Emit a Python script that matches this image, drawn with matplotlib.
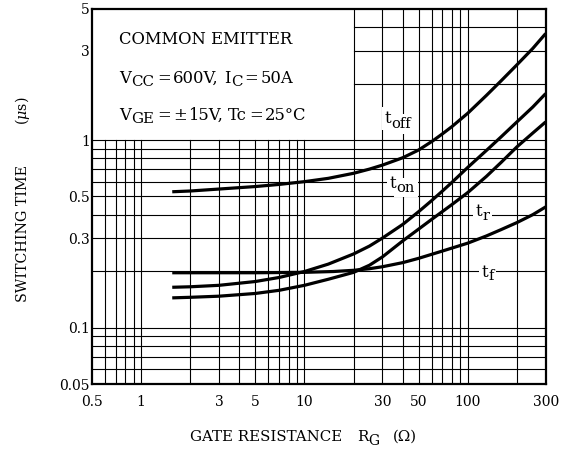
import matplotlib
matplotlib.use('Agg')
import matplotlib.pyplot as plt
from matplotlib.transforms import IdentityTransform

plt.rcParams['font.family'] = ['DejaVu Serif']
plt.rcParams['mathtext.fontset'] = 'dejavuserif'

# ---- data ----
toff_x = [1.55, 2, 3, 5, 7, 10, 14, 20, 25, 30, 40, 50, 61, 70, 80, 100, 130, 160, 200, 250, 300]
toff_y = [0.53, 0.535, 0.548, 0.565, 0.58, 0.60, 0.625, 0.665, 0.70, 0.735, 0.805, 0.885, 0.99,
          1.08, 1.18, 1.39, 1.73, 2.07, 2.52, 3.08, 3.7]

ton_x = [1.55, 2, 3, 5, 7, 10, 14, 20, 25, 30, 40, 50, 60, 70, 80, 100, 130, 160, 200, 250, 300]
ton_y = [0.164, 0.165, 0.168, 0.176, 0.185, 0.199, 0.218, 0.247, 0.272, 0.30, 0.355, 0.415, 0.475,
         0.535, 0.595, 0.715, 0.88, 1.04, 1.25, 1.50, 1.77]

tr_x = [1.55, 2, 3, 5, 7, 10, 14, 20, 25, 30, 40, 50, 60, 70, 80, 100, 130, 160, 200, 250, 300]
tr_y = [0.144, 0.145, 0.147, 0.152, 0.158, 0.168, 0.181, 0.197, 0.215, 0.238, 0.29, 0.335, 0.377,
        0.416, 0.453, 0.525, 0.64, 0.76, 0.92, 1.09, 1.25]

tf_x = [1.55, 3, 5, 10, 15, 20, 25, 30, 40, 50, 70, 100, 130, 160, 200, 250, 300]
tf_y = [0.196, 0.196, 0.196, 0.197, 0.199, 0.202, 0.206, 0.211, 0.222, 0.234, 0.256, 0.282, 0.308,
        0.333, 0.363, 0.40, 0.44]

x_ticks = [0.5, 1, 3, 5, 10, 30, 50, 100, 300]
x_tick_labels = ['0.5', '1', '3', '5', '10', '30', '50', '100', '300']
y_ticks = [0.05, 0.1, 0.3, 0.5, 1, 3, 5]
y_tick_labels = ['0.05', '0.1', '0.3', '0.5', '1', '3', '5']

grid_x = [0.6, 0.7, 0.8, 0.9, 1, 2, 3, 4, 5, 6, 7, 8, 9, 10,
          20, 30, 40, 50, 60, 70, 80, 90, 100, 200]
grid_y_low = [0.06, 0.07, 0.08, 0.09, 0.1, 0.2, 0.3, 0.4, 0.5, 0.6, 0.7, 0.8, 0.9, 1]
grid_y_high = [2, 3, 4]

# curve labels: subscript and anchor (data coords of left baseline of "t")
curve_label_sub = ['off', 'on', 'r', 'f']
curve_label_x = [31.1, 33.4, 111.8, 121.7]
curve_label_y = [1.229, 0.553, 0.395, 0.187]
curve_label_drop = [4.5, 3.4, 4.0, 3.0]

# ---- figure ----
W, H = 564, 451
fig = plt.figure(figsize=(W / 100, H / 100), dpi=100)
ax = fig.add_axes([92 / W, 67 / H, 453.7 / W, 375 / H])
ax.set_xscale('log')
ax.set_yscale('log')
ax.set_xlim(0.5, 300)
ax.set_ylim(0.05, 5)
renderer = fig.canvas.get_renderer()
ID = IdentityTransform()


def pieces_text(x0, y0, pieces, rotation=0, bbox=None, zorder=4, color='black'):
    """Lay out (text, size, drop, gap) pieces from display pixel (x0, y0) on a baseline."""
    pos = 0.0
    for s, size, drop, gap in pieces:
        pos += gap
        if rotation == 0:
            t = ax.text(x0 + pos, y0 - drop, s, fontsize=size, ha='left', va='baseline',
                        transform=ID, zorder=zorder, bbox=bbox, clip_on=False, color=color)
            pos += t.get_window_extent(renderer).width
        else:
            t = ax.text(x0 + drop, y0 + pos, s, fontsize=size, ha='left', va='baseline',
                        rotation=90, rotation_mode='anchor', transform=ID, zorder=zorder,
                        bbox=bbox, clip_on=False, color=color)
            pos += t.get_window_extent(renderer).height


# grid (the upper-left area holds the condition text, no grid there)
for gx in grid_x:
    top = 5 if gx >= 20 else 1
    ax.plot([gx, gx], [0.05, top], color='black', lw=0.8, zorder=1)
for gy in grid_y_low:
    ax.plot([0.5, 300], [gy, gy], color='black', lw=0.8, zorder=1)
for gy in grid_y_high:
    ax.plot([20, 300], [gy, gy], color='black', lw=0.8, zorder=1)

for xs, ys in [(toff_x, toff_y), (ton_x, ton_y), (tr_x, tr_y), (tf_x, tf_y)]:
    ax.plot(xs, ys, color='black', lw=2.3, solid_capstyle='butt', solid_joinstyle='round', zorder=3)

white = dict(facecolor='white', edgecolor='none', pad=2.0)
for sub, lx, ly, dr in zip(curve_label_sub, curve_label_x, curve_label_y, curve_label_drop):
    px, py = ax.transData.transform((lx, ly))
    pcs = [('t', 12, 0, 0), (sub, 10.5, dr, 0)]
    pieces_text(px, py, pcs, bbox=white, zorder=2, color='white')   # white backing
    pieces_text(px, py, pcs, zorder=2.2)                              # the text itself

ax.set_xticks(x_ticks)
ax.set_xticklabels(x_tick_labels)
ax.set_yticks(y_ticks)
ax.set_yticklabels(y_tick_labels)
ax.minorticks_off()
ax.tick_params(axis='both', length=0, labelsize=10)
ax.tick_params(axis='x', pad=8)
ax.tick_params(axis='y', pad=1.5)
for s in ax.spines.values():
    s.set_linewidth(1.6)
    s.set_zorder(5)

# condition text (pixel positions measured from the top of the image)
FS, SS = 11.8, 10.8
pieces_text(119, H - 44, [('COMMON EMITTER', FS, 0, 0)])
pieces_text(119, H - 83.3, [('V', FS, 0, 0), ('CC', SS, 2.7, 0.5), ('=', FS, 0, 2.5),
                            ('600V,', FS, 0, 2.5), ('I', FS, 0, 5), ('C', SS, 2.7, 0.5),
                            ('=', FS, 0, 2.5), ('50A', FS, 0, 2.5)])
pieces_text(119, H - 120, [('V', FS, 0, 0), ('GE', SS, 2.7, 0.5), ('=', FS, 0, 2.5),
                           ('±', FS, 0, 2.5), ('15V,', FS, 0, 1), ('Tc', FS, 0, 5),
                           ('=', FS, 0, 2.5), ('25°C', FS, 0, 2.5)])

# axis titles
pieces_text(190, H - 441, [('GATE RESISTANCE', 10.8, 0, 0)])
pieces_text(357, H - 441, [('R', 10.8, 0, 0), ('G', 10, 4, 0)])
pieces_text(393, H - 441, [('(Ω)', 10.8, 0, 0)])
pieces_text(27, H - 302, [('SWITCHING TIME', 10.3, 0, 0)], rotation=90)
pieces_text(27, H - 125, [(r'($\mu$s)', 10.3, 0, 0)], rotation=90)

fig.savefig('out.png', dpi=100)
